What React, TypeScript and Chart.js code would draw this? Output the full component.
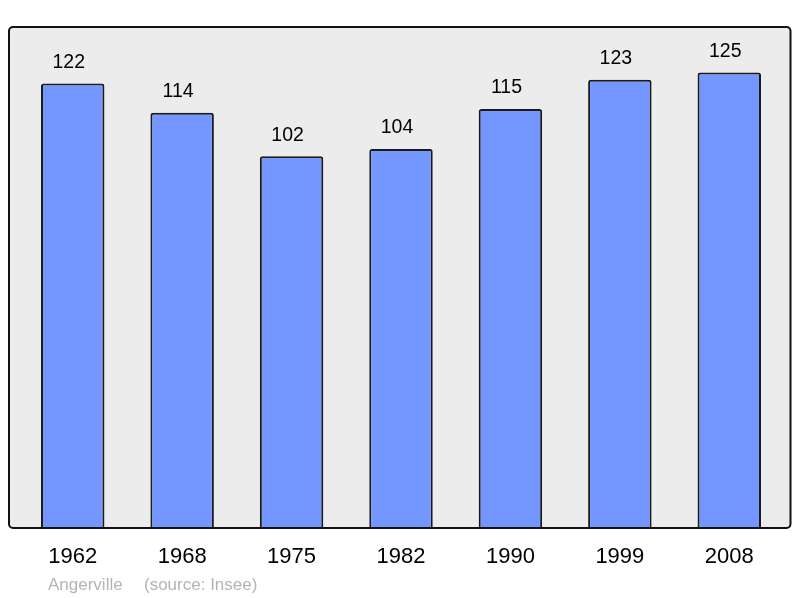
import React, { useEffect, useRef } from "react";
import { Chart, registerables } from "chart.js";

Chart.register(...registerables);

const years = ["1962", "1968", "1975", "1982", "1990", "1999", "2008"];
const population = [122, 114, 102, 104, 115, 123, 125];
const yMax = 137.5;
const footerLeft = "Angerville";
const footerRight = "(source: Insee)";

const FONT = "'Liberation Sans', Arial, sans-serif";

const framePlugin = {
  id: "frame",
  beforeDraw(chart: any) {
    const { ctx, chartArea } = chart;
    const l = chartArea.left - 9;
    const r = chartArea.right + 6.5;
    const t = chartArea.top;
    const b = chartArea.bottom;
    ctx.save();
    ctx.beginPath();
    ctx.roundRect(l, t, r - l, b - t, 4);
    ctx.fillStyle = "#ececec";
    ctx.fill();
    ctx.restore();
  },
  afterDatasetsDraw(chart: any) {
    const { ctx, chartArea } = chart;
    const l = chartArea.left - 9;
    const r = chartArea.right + 6.5;
    const t = chartArea.top;
    const b = chartArea.bottom;
    ctx.save();
    ctx.beginPath();
    ctx.roundRect(l, t, r - l, b - t, 4);
    ctx.lineWidth = 2;
    ctx.strokeStyle = "#111";
    ctx.stroke();
    // value labels
    const meta = chart.getDatasetMeta(0);
    ctx.fillStyle = "#000";
    ctx.font = `19.5px ${FONT}`;
    ctx.textAlign = "center";
    ctx.textBaseline = "middle";
    meta.data.forEach((bar: any, i: number) => {
      ctx.fillText(String(population[i]), bar.x - 4, bar.y - 21);
    });
    // footer
    ctx.fillStyle = "#b4b4b4";
    ctx.font = `17px ${FONT}`;
    ctx.textAlign = "left";
    ctx.fillText(footerLeft, chartArea.left + 30, 585);
    ctx.fillText(footerRight, chartArea.left + 126, 585);
    ctx.restore();
  },
};

export default function App() {
  const ref = useRef<HTMLCanvasElement>(null);
  useEffect(() => {
    if (!ref.current) return;
    const chart = new Chart(ref.current, {
      type: "bar",
      data: {
        labels: years,
        datasets: [
          {
            data: population,
            backgroundColor: "#7396ff",
            borderColor: "#1a1a1a",
            borderWidth: 2,
            borderRadius: 2.5,
            borderSkipped: "bottom",
            barPercentage: 1,
            categoryPercentage: 0.58,
          },
        ],
      },
      options: {
        responsive: false,
        animation: false,
        devicePixelRatio: 1,
        layout: { padding: { left: 18, right: 16, top: 27, bottom: 0 } },
        plugins: {
          legend: { display: false },
          tooltip: { enabled: false },
        },
        scales: {
          x: {
            grid: { display: false, drawTicks: false },
            border: { display: false },
            ticks: {
              color: "#000",
              font: { family: FONT, size: 22 },
              padding: 16,
            },
            afterFit: (s: any) => {
              s.height = 70;
            },
          },
          y: {
            display: false,
            min: 0,
            max: yMax,
          },
        },
      },
      plugins: [framePlugin],
    });
    return () => chart.destroy();
  }, []);
  return (
    <div style={{ position: "fixed", left: 0, top: 0, width: 800, height: 598 }}>
      <canvas ref={ref} width={800} height={598} style={{ width: 800, height: 598 }} />
    </div>
  );
}
